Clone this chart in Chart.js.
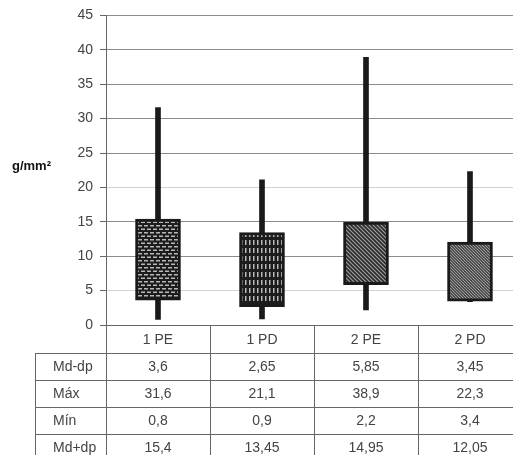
<!DOCTYPE html>
<html>
<head>
<meta charset="utf-8">
<script src="https://cdn.jsdelivr.net/npm/chart.js@4/dist/chart.umd.min.js"></script>
<style>
  html, body { margin: 0; padding: 0; background: #fff; overflow: hidden; }
  #wrap { width: 522px; height: 455px; }
</style>
</head>
<body>
<div id="wrap"><canvas id="myChart" width="522" height="455"></canvas></div>
<script>
// dados (g/mm²)
const grupos = ['1 PE', '1 PD', '2 PE', '2 PD'];
const mdMenosDp = [3.6, 2.65, 5.85, 3.45];
const maximos = [31.6, 21.1, 38.9, 22.3];
const minimos = [0.8, 0.9, 2.2, 3.4];
const mdMaisDp = [15.4, 13.45, 14.95, 12.05];
const linhasTabela = [
    ['Md-dp', mdMenosDp],
    ['Máx', maximos],
    ['Mín', minimos],
    ['Md+dp', mdMaisDp]
];
const yTicks = [0, 5, 10, 15, 20, 25, 30, 35, 40, 45];

// texturas das caixas
function pattern(kind) {
    const c = document.createElement('canvas');
    const g = c.getContext('2d');
    if (kind === 'hdash') {
        c.width = 6; c.height = 7;
        g.fillStyle = '#1c1c1c'; g.fillRect(0, 0, 6, 7);
        g.fillStyle = '#b8b8b8';
        g.fillRect(0, 1, 4, 1.5);
        g.fillRect(3, 4.5, 3, 1.5);
        g.fillRect(0, 4.5, 1, 1.5);
    } else if (kind === 'vdash') {
        c.width = 4; c.height = 8;
        g.fillStyle = '#1c1c1c'; g.fillRect(0, 0, 4, 8);
        g.fillStyle = '#b8b8b8';
        g.fillRect(1, 0, 1.5, 5);
    } else {
        const s = kind === 'diag' ? 4 : 3;
        c.width = s; c.height = s;
        g.fillStyle = '#2a2a2a'; g.fillRect(0, 0, s, s);
        g.strokeStyle = '#a0a0a0'; g.lineWidth = 1.2;
        g.beginPath();
        g.moveTo(-1, -1); g.lineTo(s + 1, s + 1);
        g.moveTo(-1, s - 1); g.lineTo(1, s + 1);
        g.moveTo(s - 1, -1); g.lineTo(s + 1, 1);
        g.stroke();
    }
    return g.createPattern(c, 'repeat');
}
const fills = [pattern('hdash'), pattern('vdash'), pattern('diag'), pattern('diag2')];

const tabela = {
    id: 'tabela',
    afterDraw(chart) {
        const ctx = chart.ctx;
        const x = chart.scales.x;
        const area = chart.chartArea;
        const colW = (area.right - area.left) / grupos.length;
        const top = area.bottom;
        const headH = 28, rowH = 27;
        const labelLeft = 35;
        const bottom = top + headH + rowH * linhasTabela.length;

        ctx.save();
        ctx.strokeStyle = '#666';
        ctx.lineWidth = 1;
        ctx.beginPath();
        // verticais
        for (let i = 0; i <= grupos.length; i++) {
            const xx = Math.round(area.left + i * colW) + 0.5;
            ctx.moveTo(xx, top);
            ctx.lineTo(xx, bottom);
        }
        ctx.moveTo(labelLeft + 0.5, top + headH);
        ctx.lineTo(labelLeft + 0.5, bottom);
        // horizontais
        for (let r = 0; r <= linhasTabela.length; r++) {
            const yy = Math.round(top + headH + r * rowH) + 0.5;
            ctx.moveTo(labelLeft, yy);
            ctx.lineTo(area.right, yy);
        }
        ctx.stroke();

        ctx.fillStyle = '#444';
        ctx.font = '14px "Liberation Sans", Arial, sans-serif';
        ctx.textBaseline = 'middle';
        ctx.textAlign = 'center';
        grupos.forEach((g, i) => {
            ctx.fillText(g, x.getPixelForValue(i), top + headH / 2 + 1);
        });
        linhasTabela.forEach(([nome, vals], r) => {
            const yy = top + headH + r * rowH + rowH / 2 + 1;
            ctx.textAlign = 'left';
            ctx.fillText(nome, 53, yy);
            ctx.textAlign = 'center';
            vals.forEach((v, i) => {
                ctx.fillText(String(v).replace('.', ','), x.getPixelForValue(i), yy);
            });
        });

        // unidade do eixo
        ctx.fillStyle = '#111';
        ctx.font = 'bold 13px "Liberation Sans", Arial, sans-serif';
        ctx.textAlign = 'left';
        ctx.fillText('g/mm²', 12, 166);
        ctx.restore();
    }
};

const ctx = document.getElementById('myChart').getContext('2d');
new Chart(ctx, {
    type: 'bar',
    data: {
        labels: grupos,
        datasets: [{
            label: 'Mín-Máx',
            data: minimos.map((m, i) => [m, maximos[i]]),
            backgroundColor: '#1a1a1a',
            barThickness: 5,
            grouped: false,
            order: 2
        }, {
            label: 'Md±dp',
            data: mdMenosDp.map((v, i) => [v, mdMaisDp[i]]),
            backgroundColor: fills,
            borderColor: '#1a1a1a',
            borderWidth: 3,
            borderSkipped: false,
            barThickness: 45,
            grouped: false,
            order: 1
        }]
    },
    options: {
        responsive: false,
        animation: false,
        layout: {
            padding: { left: 0, right: 0, top: 15, bottom: 130 }
        },
        scales: {
            x: {
                display: false
            },
            y: {
                min: 0,
                max: 45,
                afterFit(scale) { scale.width = 106; },
                afterBuildTicks(scale) { scale.ticks = yTicks.map(v => ({ value: v })); },
                border: { display: true, color: '#666' },
                grid: {
                    color: c => (c.tick.value === 5 || c.tick.value === 20) ? '#d2d2d2' : (c.tick.value === 0 ? '#666' : '#8c8c8c'),
                    tickColor: '#666',
                    tickLength: 6
                },
                ticks: {
                    color: '#444',
                    padding: 7,
                    font: { family: '"Liberation Sans", Arial, sans-serif', size: 14 }
                }
            }
        },
        plugins: {
            legend: { display: false },
            tooltip: { enabled: false }
        }
    },
    plugins: [tabela]
});
</script>
</body>
</html>
